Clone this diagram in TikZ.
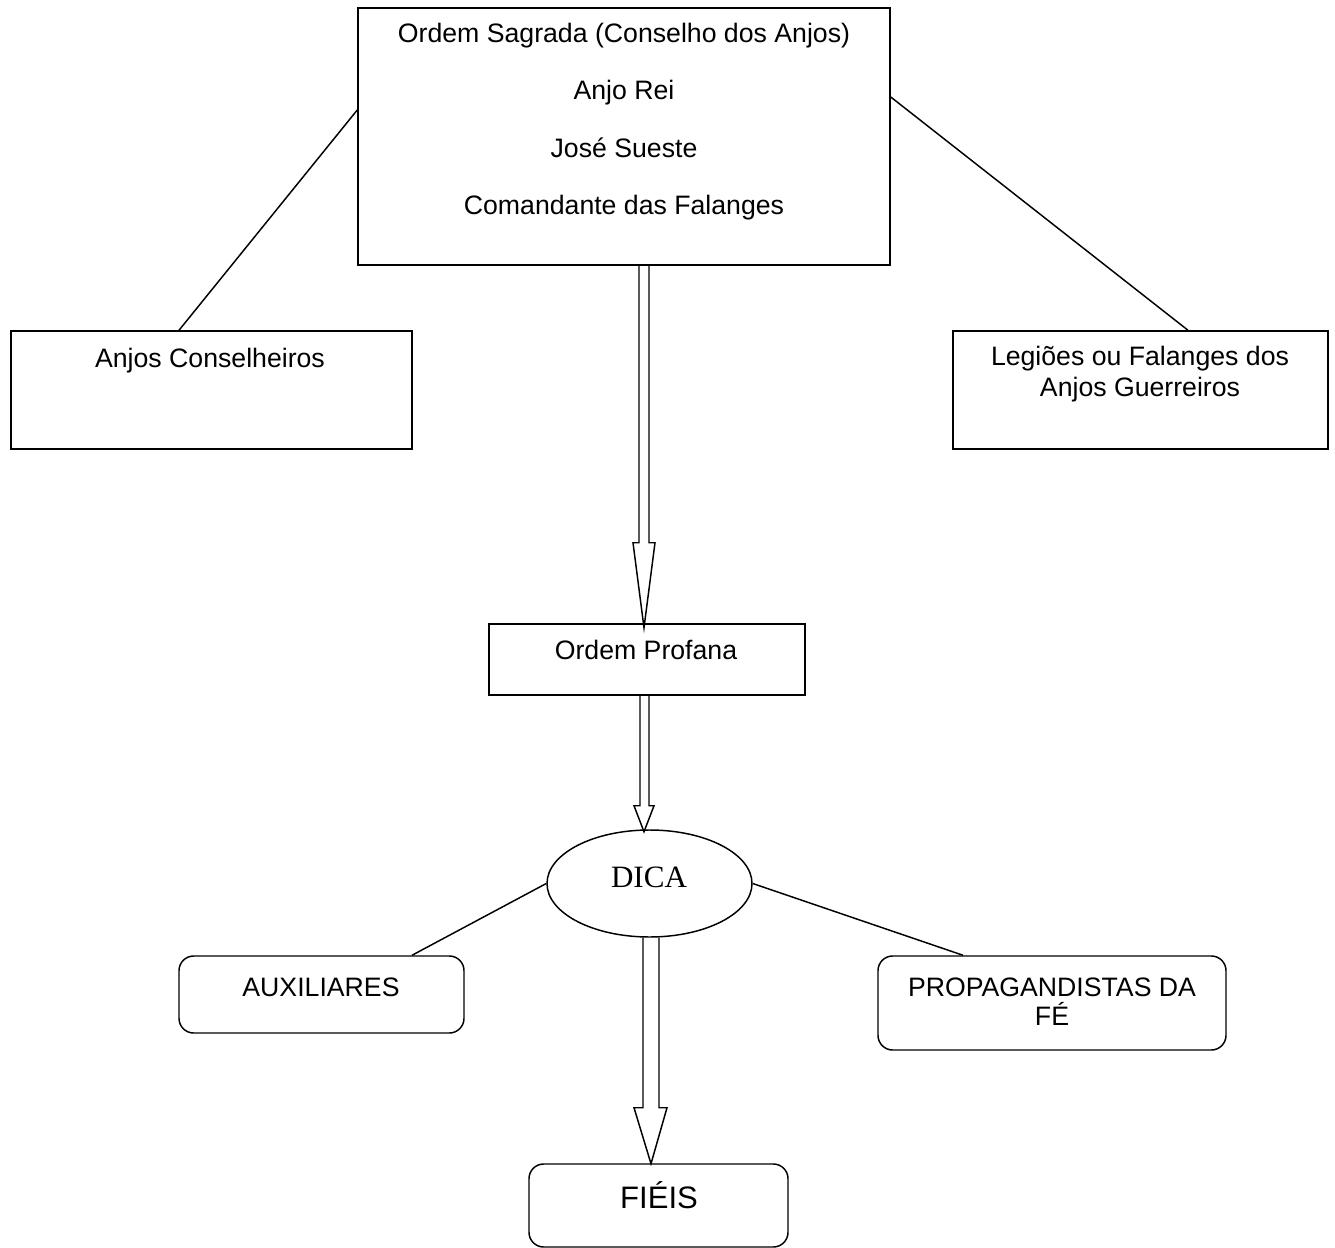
\documentclass[tikz,border=0pt]{standalone}
\usepackage{fontspec}
\setmainfont{Liberation Sans}
\newfontfamily\serifdica{Liberation Serif}
\usetikzlibrary{shapes.geometric}
\begin{document}
\begin{tikzpicture}[x=0.75pt,y=-0.75pt,
  box/.style={draw,line width=1.1pt,inner sep=0pt},
  rbox/.style={box,rounded corners=11pt},
  txt/.style={anchor=base,inner sep=0pt,font=\fontsize{20}{24}\selectfont},
  bigtxt/.style={anchor=base,inner sep=0pt,font=\fontsize{23.3}{28}\selectfont},
  link/.style={line width=1.1pt},
  blk/.style={line width=1.1pt,line join=miter}]
\useasboundingbox (0,0) rectangle (1335,1248);

% boxes
\node[box,minimum width=399pt,minimum height=192.75pt] (top) at (624,136.5) {};
\node[box,minimum width=300.75pt,minimum height=88.5pt] (lbox) at (211.5,390) {};
\node[box,minimum width=281.25pt,minimum height=88.5pt] (rbox) at (1140.5,390) {};
\node[box,minimum width=237pt,minimum height=53.25pt] (op) at (647,659.5) {};
\node[box,ellipse,minimum width=153.75pt,minimum height=80.25pt] (dica) at (649.5,883.5) {};
\node[rbox,minimum width=213.75pt,minimum height=57.75pt] (aux) at (321.5,994.5) {};
\node[rbox,minimum width=261pt,minimum height=70.5pt] (prop) at (1052,1003) {};
\node[rbox,minimum width=194.25pt,minimum height=62.25pt] (fieis) at (658.5,1205.5) {};

% texts
\node[txt] (t1) at (624,43) {Ordem Sagrada (Conselho dos Anjos)};
\node[txt] (t2) at (624,100) {Anjo Rei};
\node[txt] (t3) at (624,158) {José Sueste};
\node[txt] (t4) at (624,215) {Comandante das Falanges};
\node[txt] (tl) at (210,367) {Anjos Conselheiros};
\node[txt] (tr1) at (1140,365) {Legiões ou Falanges dos};
\node[txt] (tr2) at (1140,396) {Anjos Guerreiros};
\node[txt] (top1) at (646,659) {Ordem Profana};
\node[bigtxt,font=\serifdica\fontsize{23.3}{28}\selectfont] (td) at (649,887) {DICA};
\node[txt] (ta) at (321,996) {AUXILIARES};
\node[txt] (tp1) at (1052,996) {PROPAGANDISTAS DA};
\node[txt] (tp2) at (1052,1025) {FÉ};
\node[bigtxt] (tf) at (659,1208) {FIÉIS};

% plain connectors
\coordinate (cl) at (179,0);
\coordinate (cr) at (1188,0);
\coordinate (ca) at (412,0);
\coordinate (cp) at (963,0);
\coordinate (yl) at (0,110);
\coordinate (yr) at (0,97);
\draw[link] (lbox.north -| cl) -- (top.west |- yl);
\draw[link] (rbox.north -| cr) -- (top.east |- yr);
\draw[link] (aux.north -| ca) -- (dica.west);
\draw[link] (prop.north -| cp) -- (dica.east);

% block arrows
\draw[blk] ([xshift=11.25pt]top.south) -- ++(0,277) -- ++(-6,0) -- ++(11,85) -- ++(11,-85) -- ++(-6,0) -- ++(0,-277);
\draw[blk] ([xshift=-5.25pt]op.south) -- ++(0,110) -- ++(-6,0) -- ++(10,26) -- ++(10,-26) -- ++(-5,0) -- ++(0,-110);
\draw[blk] ([xshift=-4.875pt]dica.south) -- ++(0,170) -- ++(-9,0) -- ++(17,56) -- ++(16,-56) -- ++(-8,0) -- ++(0,-170);
\end{tikzpicture}
\end{document}
